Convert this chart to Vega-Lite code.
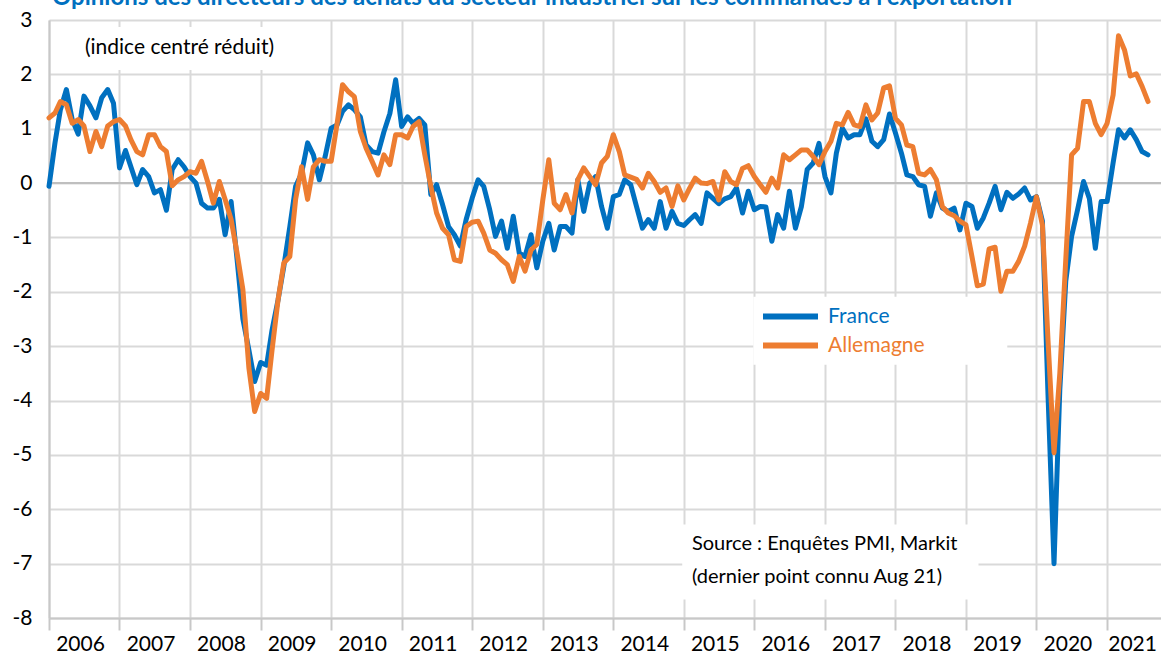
{
  "$schema": "https://vega.github.io/schema/vega-lite/v6.json",
  "width": 1112,
  "height": 598,
  "autosize": {"type": "none"},
  "padding": {"left": 49, "top": 20, "right": 0, "bottom": 35},
  "background": "white",
  "config": {
    "view": {"stroke": null},
    "font": "Lato",
    "axis": {"labelFont": "Lato"}
  },
  "data": {
    "values": [
      {"m": "2006-01-01", "France": -0.06, "Allemagne": 1.2},
      {"m": "2006-02-01", "France": 0.74, "Allemagne": 1.29},
      {"m": "2006-03-01", "France": 1.35, "Allemagne": 1.5},
      {"m": "2006-04-01", "France": 1.72, "Allemagne": 1.44},
      {"m": "2006-05-01", "France": 1.17, "Allemagne": 1.1},
      {"m": "2006-06-01", "France": 0.9, "Allemagne": 1.17},
      {"m": "2006-07-01", "France": 1.6, "Allemagne": 1.05},
      {"m": "2006-08-01", "France": 1.42, "Allemagne": 0.58},
      {"m": "2006-09-01", "France": 1.2, "Allemagne": 0.95},
      {"m": "2006-10-01", "France": 1.57, "Allemagne": 0.67},
      {"m": "2006-11-01", "France": 1.72, "Allemagne": 1.05},
      {"m": "2006-12-01", "France": 1.47, "Allemagne": 1.13},
      {"m": "2007-01-01", "France": 0.28, "Allemagne": 1.17},
      {"m": "2007-02-01", "France": 0.6, "Allemagne": 1.05},
      {"m": "2007-03-01", "France": 0.3, "Allemagne": 0.8},
      {"m": "2007-04-01", "France": -0.03, "Allemagne": 0.58},
      {"m": "2007-05-01", "France": 0.25, "Allemagne": 0.52},
      {"m": "2007-06-01", "France": 0.12, "Allemagne": 0.89},
      {"m": "2007-07-01", "France": -0.18, "Allemagne": 0.89},
      {"m": "2007-08-01", "France": -0.12, "Allemagne": 0.67},
      {"m": "2007-09-01", "France": -0.5, "Allemagne": 0.58},
      {"m": "2007-10-01", "France": 0.25, "Allemagne": -0.05},
      {"m": "2007-11-01", "France": 0.43, "Allemagne": 0.06},
      {"m": "2007-12-01", "France": 0.3, "Allemagne": 0.12},
      {"m": "2008-01-01", "France": 0.12, "Allemagne": 0.21},
      {"m": "2008-02-01", "France": 0, "Allemagne": 0.18},
      {"m": "2008-03-01", "France": -0.37, "Allemagne": 0.4},
      {"m": "2008-04-01", "France": -0.46, "Allemagne": 0.03},
      {"m": "2008-05-01", "France": -0.46, "Allemagne": -0.37},
      {"m": "2008-06-01", "France": -0.3, "Allemagne": 0.03},
      {"m": "2008-07-01", "France": -0.95, "Allemagne": -0.3},
      {"m": "2008-08-01", "France": -0.34, "Allemagne": -0.67},
      {"m": "2008-09-01", "France": -1.41, "Allemagne": -1.29},
      {"m": "2008-10-01", "France": -2.5, "Allemagne": -1.96},
      {"m": "2008-11-01", "France": -3.07, "Allemagne": -3.4},
      {"m": "2008-12-01", "France": -3.65, "Allemagne": -4.2},
      {"m": "2009-01-01", "France": -3.3, "Allemagne": -3.87},
      {"m": "2009-02-01", "France": -3.35, "Allemagne": -3.96},
      {"m": "2009-03-01", "France": -2.7, "Allemagne": -3.07},
      {"m": "2009-04-01", "France": -2.15, "Allemagne": -2.15},
      {"m": "2009-05-01", "France": -1.53, "Allemagne": -1.47},
      {"m": "2009-06-01", "France": -0.8, "Allemagne": -1.35},
      {"m": "2009-07-01", "France": -0.06, "Allemagne": -0.3},
      {"m": "2009-08-01", "France": 0.18, "Allemagne": 0.3},
      {"m": "2009-09-01", "France": 0.74, "Allemagne": -0.3},
      {"m": "2009-10-01", "France": 0.52, "Allemagne": 0.3},
      {"m": "2009-11-01", "France": 0.06, "Allemagne": 0.43},
      {"m": "2009-12-01", "France": 0.49, "Allemagne": 0.4},
      {"m": "2010-01-01", "France": 1.01, "Allemagne": 0.4},
      {"m": "2010-02-01", "France": 1.07, "Allemagne": 1.1},
      {"m": "2010-03-01", "France": 1.32, "Allemagne": 1.81},
      {"m": "2010-04-01", "France": 1.44, "Allemagne": 1.68},
      {"m": "2010-05-01", "France": 1.35, "Allemagne": 1.59},
      {"m": "2010-06-01", "France": 1.22, "Allemagne": 0.95},
      {"m": "2010-07-01", "France": 0.7, "Allemagne": 0.64},
      {"m": "2010-08-01", "France": 0.58, "Allemagne": 0.4},
      {"m": "2010-09-01", "France": 0.55, "Allemagne": 0.15},
      {"m": "2010-10-01", "France": 0.94, "Allemagne": 0.52},
      {"m": "2010-11-01", "France": 1.28, "Allemagne": 0.34},
      {"m": "2010-12-01", "France": 1.9, "Allemagne": 0.89},
      {"m": "2011-01-01", "France": 1.04, "Allemagne": 0.89},
      {"m": "2011-02-01", "France": 1.22, "Allemagne": 0.83},
      {"m": "2011-03-01", "France": 1.1, "Allemagne": 1.04},
      {"m": "2011-04-01", "France": 1.19, "Allemagne": 1.13},
      {"m": "2011-05-01", "France": 1.07, "Allemagne": 0.52},
      {"m": "2011-06-01", "France": -0.21, "Allemagne": -0.06},
      {"m": "2011-07-01", "France": -0.03, "Allemagne": -0.55},
      {"m": "2011-08-01", "France": -0.4, "Allemagne": -0.83},
      {"m": "2011-09-01", "France": -0.8, "Allemagne": -0.95},
      {"m": "2011-10-01", "France": -0.95, "Allemagne": -1.41},
      {"m": "2011-11-01", "France": -1.16, "Allemagne": -1.44},
      {"m": "2011-12-01", "France": -0.67, "Allemagne": -0.8},
      {"m": "2012-01-01", "France": -0.28, "Allemagne": -0.72},
      {"m": "2012-02-01", "France": 0.06, "Allemagne": -0.7},
      {"m": "2012-03-01", "France": -0.06, "Allemagne": -0.92},
      {"m": "2012-04-01", "France": -0.49, "Allemagne": -1.23},
      {"m": "2012-05-01", "France": -0.98, "Allemagne": -1.29},
      {"m": "2012-06-01", "France": -0.7, "Allemagne": -1.41},
      {"m": "2012-07-01", "France": -1.2, "Allemagne": -1.5},
      {"m": "2012-08-01", "France": -0.61, "Allemagne": -1.81},
      {"m": "2012-09-01", "France": -1.29, "Allemagne": -1.35},
      {"m": "2012-10-01", "France": -1.35, "Allemagne": -1.62},
      {"m": "2012-11-01", "France": -0.95, "Allemagne": -1.23},
      {"m": "2012-12-01", "France": -1.56, "Allemagne": -1.13},
      {"m": "2013-01-01", "France": -1.07, "Allemagne": -0.31},
      {"m": "2013-02-01", "France": -0.74, "Allemagne": 0.43},
      {"m": "2013-03-01", "France": -1.23, "Allemagne": -0.37},
      {"m": "2013-04-01", "France": -0.8, "Allemagne": -0.49},
      {"m": "2013-05-01", "France": -0.8, "Allemagne": -0.21},
      {"m": "2013-06-01", "France": -0.92, "Allemagne": -0.55},
      {"m": "2013-07-01", "France": 0.06, "Allemagne": 0.06},
      {"m": "2013-08-01", "France": -0.52, "Allemagne": 0.28},
      {"m": "2013-09-01", "France": 0, "Allemagne": 0.12},
      {"m": "2013-10-01", "France": 0.12, "Allemagne": -0.03},
      {"m": "2013-11-01", "France": -0.43, "Allemagne": 0.37},
      {"m": "2013-12-01", "France": -0.83, "Allemagne": 0.49},
      {"m": "2014-01-01", "France": -0.25, "Allemagne": 0.89},
      {"m": "2014-02-01", "France": -0.21, "Allemagne": 0.58},
      {"m": "2014-03-01", "France": 0.06, "Allemagne": 0.15},
      {"m": "2014-04-01", "France": -0.03, "Allemagne": 0.11},
      {"m": "2014-05-01", "France": -0.43, "Allemagne": 0.07},
      {"m": "2014-06-01", "France": -0.83, "Allemagne": -0.09},
      {"m": "2014-07-01", "France": -0.67, "Allemagne": 0.18},
      {"m": "2014-08-01", "France": -0.83, "Allemagne": 0.03},
      {"m": "2014-09-01", "France": -0.34, "Allemagne": -0.17},
      {"m": "2014-10-01", "France": -0.83, "Allemagne": -0.09},
      {"m": "2014-11-01", "France": -0.52, "Allemagne": -0.43},
      {"m": "2014-12-01", "France": -0.74, "Allemagne": -0.05},
      {"m": "2015-01-01", "France": -0.78, "Allemagne": -0.31},
      {"m": "2015-02-01", "France": -0.67, "Allemagne": -0.09},
      {"m": "2015-03-01", "France": -0.58, "Allemagne": 0.09},
      {"m": "2015-04-01", "France": -0.74, "Allemagne": 0},
      {"m": "2015-05-01", "France": -0.18, "Allemagne": -0.01},
      {"m": "2015-06-01", "France": -0.28, "Allemagne": 0.03},
      {"m": "2015-07-01", "France": -0.38, "Allemagne": -0.31},
      {"m": "2015-08-01", "France": -0.29, "Allemagne": 0.21},
      {"m": "2015-09-01", "France": -0.25, "Allemagne": 0.03},
      {"m": "2015-10-01", "France": -0.09, "Allemagne": -0.03},
      {"m": "2015-11-01", "France": -0.55, "Allemagne": 0.27},
      {"m": "2015-12-01", "France": -0.15, "Allemagne": 0.32},
      {"m": "2016-01-01", "France": -0.49, "Allemagne": 0.12},
      {"m": "2016-02-01", "France": -0.43, "Allemagne": -0.03},
      {"m": "2016-03-01", "France": -0.44, "Allemagne": -0.17},
      {"m": "2016-04-01", "France": -1.07, "Allemagne": 0.09},
      {"m": "2016-05-01", "France": -0.58, "Allemagne": -0.09},
      {"m": "2016-06-01", "France": -0.83, "Allemagne": 0.52},
      {"m": "2016-07-01", "France": -0.15, "Allemagne": 0.43},
      {"m": "2016-08-01", "France": -0.83, "Allemagne": 0.52},
      {"m": "2016-09-01", "France": -0.43, "Allemagne": 0.61},
      {"m": "2016-10-01", "France": 0.25, "Allemagne": 0.61},
      {"m": "2016-11-01", "France": 0.37, "Allemagne": 0.49},
      {"m": "2016-12-01", "France": 0.73, "Allemagne": 0.34},
      {"m": "2017-01-01", "France": 0.12, "Allemagne": 0.58},
      {"m": "2017-02-01", "France": -0.18, "Allemagne": 0.77},
      {"m": "2017-03-01", "France": 0.55, "Allemagne": 1.1},
      {"m": "2017-04-01", "France": 1.01, "Allemagne": 1.07},
      {"m": "2017-05-01", "France": 0.83, "Allemagne": 1.3},
      {"m": "2017-06-01", "France": 0.89, "Allemagne": 1.07},
      {"m": "2017-07-01", "France": 0.89, "Allemagne": 1.04},
      {"m": "2017-08-01", "France": 1.18, "Allemagne": 1.44},
      {"m": "2017-09-01", "France": 0.77, "Allemagne": 1.16},
      {"m": "2017-10-01", "France": 0.67, "Allemagne": 1.29},
      {"m": "2017-11-01", "France": 0.8, "Allemagne": 1.75},
      {"m": "2017-12-01", "France": 1.27, "Allemagne": 1.79},
      {"m": "2018-01-01", "France": 0.92, "Allemagne": 1.19},
      {"m": "2018-02-01", "France": 0.55, "Allemagne": 1.07},
      {"m": "2018-03-01", "France": 0.15, "Allemagne": 0.7},
      {"m": "2018-04-01", "France": 0.12, "Allemagne": 0.67},
      {"m": "2018-05-01", "France": -0.03, "Allemagne": 0.18},
      {"m": "2018-06-01", "France": -0.06, "Allemagne": 0.15},
      {"m": "2018-07-01", "France": -0.61, "Allemagne": 0.25},
      {"m": "2018-08-01", "France": -0.18, "Allemagne": 0.06},
      {"m": "2018-09-01", "France": -0.46, "Allemagne": -0.43},
      {"m": "2018-10-01", "France": -0.52, "Allemagne": -0.55},
      {"m": "2018-11-01", "France": -0.46, "Allemagne": -0.6},
      {"m": "2018-12-01", "France": -0.86, "Allemagne": -0.7},
      {"m": "2019-01-01", "France": -0.37, "Allemagne": -0.77},
      {"m": "2019-02-01", "France": -0.43, "Allemagne": -1.35},
      {"m": "2019-03-01", "France": -0.83, "Allemagne": -1.89},
      {"m": "2019-04-01", "France": -0.64, "Allemagne": -1.86},
      {"m": "2019-05-01", "France": -0.37, "Allemagne": -1.21},
      {"m": "2019-06-01", "France": -0.06, "Allemagne": -1.18},
      {"m": "2019-07-01", "France": -0.49, "Allemagne": -1.99},
      {"m": "2019-08-01", "France": -0.17, "Allemagne": -1.62},
      {"m": "2019-09-01", "France": -0.28, "Allemagne": -1.62},
      {"m": "2019-10-01", "France": -0.2, "Allemagne": -1.44},
      {"m": "2019-11-01", "France": -0.09, "Allemagne": -1.16},
      {"m": "2019-12-01", "France": -0.31, "Allemagne": -0.74},
      {"m": "2020-01-01", "France": -0.25, "Allemagne": -0.25},
      {"m": "2020-02-01", "France": -0.7, "Allemagne": -0.77},
      {"m": "2020-03-01", "France": -3.9, "Allemagne": -2.9},
      {"m": "2020-04-01", "France": -7.0, "Allemagne": -4.96},
      {"m": "2020-05-01", "France": -3.8, "Allemagne": -3.5},
      {"m": "2020-06-01", "France": -1.8, "Allemagne": -1.4},
      {"m": "2020-07-01", "France": -0.98, "Allemagne": 0.52},
      {"m": "2020-08-01", "France": -0.49, "Allemagne": 0.64},
      {"m": "2020-09-01", "France": 0.03, "Allemagne": 1.5},
      {"m": "2020-10-01", "France": -0.28, "Allemagne": 1.5},
      {"m": "2020-11-01", "France": -1.2, "Allemagne": 1.1},
      {"m": "2020-12-01", "France": -0.34, "Allemagne": 0.89},
      {"m": "2021-01-01", "France": -0.34, "Allemagne": 1.1},
      {"m": "2021-02-01", "France": 0.37, "Allemagne": 1.62},
      {"m": "2021-03-01", "France": 0.98, "Allemagne": 2.71},
      {"m": "2021-04-01", "France": 0.83, "Allemagne": 2.45},
      {"m": "2021-05-01", "France": 0.98, "Allemagne": 1.97},
      {"m": "2021-06-01", "France": 0.8, "Allemagne": 2.01},
      {"m": "2021-07-01", "France": 0.58, "Allemagne": 1.78},
      {"m": "2021-08-01", "France": 0.52, "Allemagne": 1.5}
    ]
  },
  "layer": [
    {
      "data": {"values": [{}]},
      "mark": {"type": "rect", "color": "white"},
      "encoding": {
        "x": {"datum": {"year": 2014, "month": 12, "date": 24, "utc": true}, "type": "temporal", "scale": {"type": "utc", "domain": [{"year": 2006, "month": 1, "date": 1, "utc": true}, {"year": 2021, "month": 10, "date": 7, "utc": true}], "nice": false}},
        "x2": {"datum": {"year": 2019, "month": 3, "date": 7, "utc": true}},
        "y": {"datum": -6.28, "type": "quantitative", "scale": {"domain": [-8, 3], "nice": false, "zero": false}},
        "y2": {"datum": -7.66}
      }
    },
    {
      "data": {"values": [{}]},
      "mark": {"type": "rect", "color": "white"},
      "encoding": {
        "x": {"datum": {"year": 2015, "month": 12, "date": 27, "utc": true}, "type": "temporal", "scale": {"type": "utc", "domain": [{"year": 2006, "month": 1, "date": 1, "utc": true}, {"year": 2021, "month": 10, "date": 7, "utc": true}], "nice": false}},
        "x2": {"datum": {"year": 2019, "month": 8, "date": 3, "utc": true}},
        "y": {"datum": -2.09, "type": "quantitative", "scale": {"domain": [-8, 3], "nice": false, "zero": false}},
        "y2": {"datum": -3.34}
      }
    },
    {
      "data": {"values": [{}]},
      "mark": {"type": "rect", "color": "white"},
      "encoding": {
        "x": {"datum": {"year": 2006, "month": 3, "date": 1, "utc": true}, "type": "temporal", "scale": {"type": "utc", "domain": [{"year": 2006, "month": 1, "date": 1, "utc": true}, {"year": 2021, "month": 10, "date": 7, "utc": true}], "nice": false}},
        "x2": {"datum": {"year": 2009, "month": 3, "date": 15, "utc": true}},
        "y": {"datum": 2.87, "type": "quantitative", "scale": {"domain": [-8, 3], "nice": false, "zero": false}},
        "y2": {"datum": 2.08}
      }
    },
    {
      "data": {"values": [{}]},
      "mark": {"type": "rule", "color": "#bfbfbf", "strokeWidth": 2},
      "encoding": {
        "y": {"datum": 0, "type": "quantitative", "scale": {"domain": [-8, 3], "nice": false, "zero": false}}
      }
    },
    {
      "transform": [
        {"fold": ["France", "Allemagne"], "as": ["pays", "valeur"]},
        {"filter": "datum.pays == 'France'"}
      ],
      "mark": {"type": "line", "strokeWidth": 5, "strokeJoin": "round", "strokeCap": "round"},
      "encoding": {
        "x": {
          "field": "m", "type": "temporal",
          "scale": {"type": "utc", "domain": [{"year": 2006, "month": 1, "date": 1, "utc": true}, {"year": 2021, "month": 10, "date": 7, "utc": true}], "nice": false},
          "axis": {
            "title": null, "format": "%Y", "tickCount": {"interval": "year", "step": 1},
            "labelOffset": {"expr": "utcyear(datum.value) == 2021 ? 25 : 31"},
            "labelFlush": false, "labelOverlap": false, "labelBound": false,
            "grid": true, "gridColor": "#d9d9d9", "gridWidth": 2,
            "ticks": true, "tickSize": 12, "tickColor": "#c8c8c8", "tickWidth": 2,
            "domainColor": "#c8c8c8", "domainWidth": 2,
            "labelFontSize": 21, "labelColor": "#000000", "labelPadding": 3, "labelAlign": "center"
          }
        },
        "y": {
          "field": "valeur", "type": "quantitative",
          "scale": {"domain": [-8, 3], "nice": false, "zero": false},
          "axis": {
            "title": null, "values": [-8, -7, -6, -5, -4, -3, -2, -1, 0, 1, 2, 3],
            "labelExpr": "datum.value + ''",
            "grid": true, "gridColor": "#d9d9d9", "gridWidth": 2,
            "ticks": false, "domainColor": "#c8c8c8", "domainWidth": 2,
            "labelFontSize": 21, "labelColor": "#000000", "labelPadding": 17
          }
        },
        "color": {
          "field": "pays", "type": "nominal",
          "scale": {"domain": ["France", "Allemagne"], "range": ["#0070C0", "#ED7D31"]},
          "legend": {
            "title": null, "orient": "none", "direction": "vertical",
            "legendX": 731, "legendY": 286, "padding": 0,
            "symbolType": "M-5,0L5,0", "symbolSize": 121, "symbolStrokeWidth": 6,
            "labelFont": "Lato", "labelFontSize": 21, "labelOffset": 27, "rowPadding": 4,
            "labelColor": {"expr": "datum.label == 'France' ? '#0070C0' : '#ED7D31'"}
          }
        }
      }
    },
    {
      "transform": [
        {"fold": ["France", "Allemagne"], "as": ["pays", "valeur"]},
        {"filter": "datum.pays == 'Allemagne'"}
      ],
      "mark": {"type": "line", "strokeWidth": 5, "strokeJoin": "round", "strokeCap": "round"},
      "encoding": {
        "x": {
          "field": "m", "type": "temporal",
          "scale": {"type": "utc", "domain": [{"year": 2006, "month": 1, "date": 1, "utc": true}, {"year": 2021, "month": 10, "date": 7, "utc": true}], "nice": false}
        },
        "y": {
          "field": "valeur", "type": "quantitative",
          "scale": {"domain": [-8, 3], "nice": false, "zero": false}
        },
        "color": {
          "field": "pays", "type": "nominal",
          "scale": {"domain": ["France", "Allemagne"], "range": ["#0070C0", "#ED7D31"]}
        }
      }
    },
    {
      "data": {"values": [{}]},
      "mark": {"type": "text", "text": "Opinions des directeurs des achats du secteur industriel sur les commandes à l'exportation", "align": "left", "baseline": "alphabetic", "font": "Lato", "fontSize": 24, "fontWeight": "bold", "color": "#0070C0"},
      "encoding": {
        "x": {"datum": {"year": 2006, "month": 1, "date": 16, "utc": true}, "type": "temporal"},
        "y": {"datum": 3.276, "type": "quantitative"}
      }
    },
    {
      "data": {"values": [{}]},
      "mark": {"type": "text", "text": "(indice centré réduit)", "align": "left", "baseline": "alphabetic", "font": "Lato", "fontSize": 21, "color": "#000000"},
      "encoding": {
        "x": {"datum": {"year": 2006, "month": 7, "date": 6, "utc": true}, "type": "temporal"},
        "y": {"datum": 2.37, "type": "quantitative"}
      }
    },
    {
      "data": {"values": [{}]},
      "mark": {"type": "text", "text": ["Source : Enquêtes PMI, Markit", "(dernier point connu Aug 21)"], "lineHeight": 33, "align": "left", "baseline": "alphabetic", "font": "Lato", "fontSize": 20, "color": "#000000"},
      "encoding": {
        "x": {"datum": {"year": 2015, "month": 2, "date": 12, "utc": true}, "type": "temporal"},
        "y": {"datum": -6.74, "type": "quantitative"}
      }
    }
  ]
}
